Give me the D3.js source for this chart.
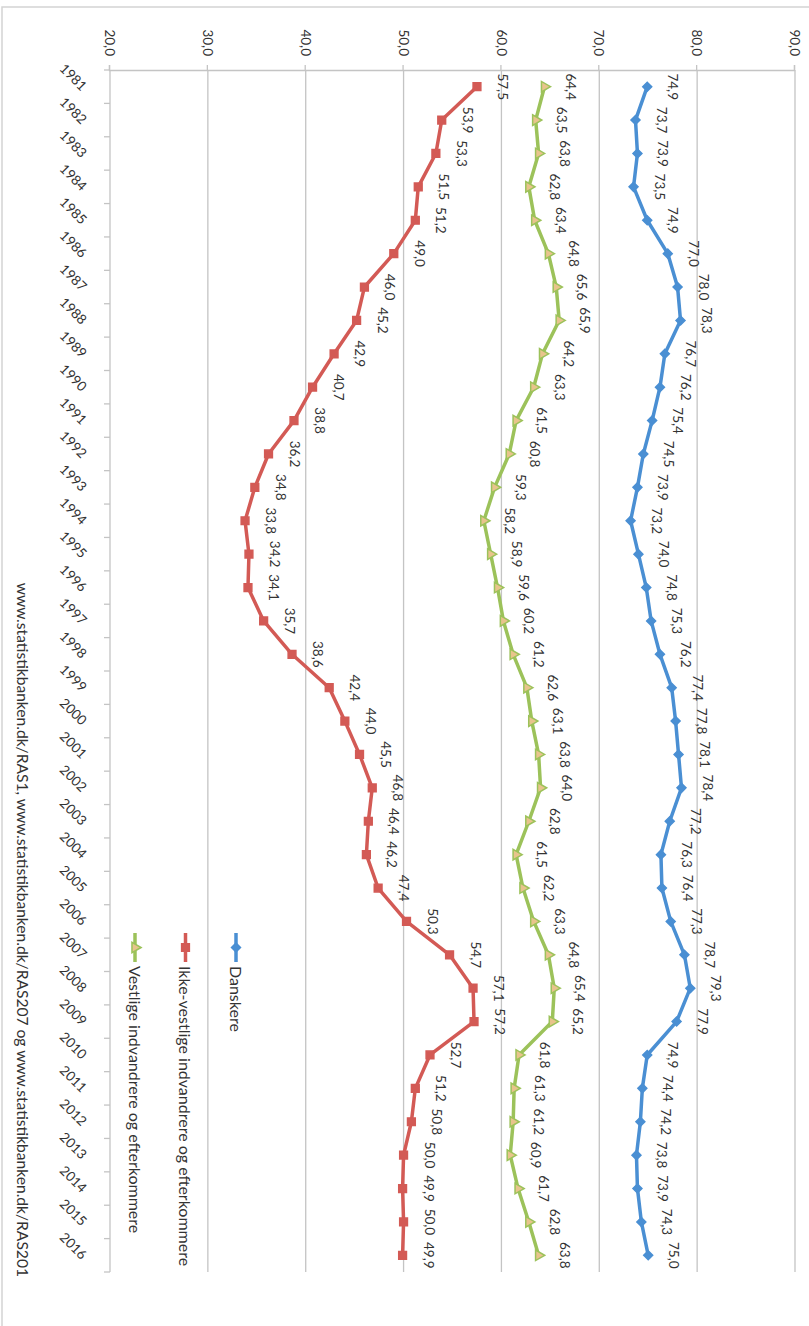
<!DOCTYPE html>
<html>
<head>
<meta charset="utf-8">
<script src="https://cdn.jsdelivr.net/npm/d3@7"></script>
<style>
  body { margin: 0; background: #fff; }
  svg { display: block; }
  text { font-family: Lato, "Open Sans", sans-serif; fill: #333; }
</style>
</head>
<body>
<div id="chart"></div>
<script>
const years = ["1981","1982","1983","1984","1985","1986","1987","1988","1989","1990",
  "1991","1992","1993","1994","1995","1996","1997","1998","1999","2000",
  "2001","2002","2003","2004","2005","2006","2007","2008","2009","2010",
  "2011","2012","2013","2014","2015","2016"];

const danskere = [74.9, 73.7, 73.9, 73.5, 74.9, 77.0, 78.0, 78.3, 76.7, 76.2,
  75.4, 74.5, 73.9, 73.2, 74.0, 74.8, 75.3, 76.2, 77.4, 77.8,
  78.1, 78.4, 77.2, 76.3, 76.4, 77.3, 78.7, 79.3, 77.9, 74.9,
  74.4, 74.2, 73.8, 73.9, 74.3, 75.0];

const ikkeVestlige = [57.5, 53.9, 53.3, 51.5, 51.2, 49.0, 46.0, 45.2, 42.9, 40.7,
  38.8, 36.2, 34.8, 33.8, 34.2, 34.1, 35.7, 38.6, 42.4, 44.0,
  45.5, 46.8, 46.4, 46.2, 47.4, 50.3, 54.7, 57.1, 57.2, 52.7,
  51.2, 50.8, 50.0, 49.9, 50.0, 49.9];

const vestlige = [64.4, 63.5, 63.8, 62.8, 63.4, 64.8, 65.6, 65.9, 64.2, 63.3,
  61.5, 60.8, 59.3, 58.2, 58.9, 59.6, 60.2, 61.2, 62.6, 63.1,
  63.8, 64.0, 62.8, 61.5, 62.2, 63.3, 64.8, 65.4, 65.2, 61.8,
  61.3, 61.2, 60.9, 61.7, 62.8, 63.8];

const seriesNames = ["Danskere", "Ikke-vestlige indvandrere og efterkommere", "Vestlige indvandrere og efterkommere"];
const valueTicks = [20, 30, 40, 50, 60, 70, 80, 90];
const sourceText = "www.statistikbanken.dk/RAS1, www.statistikbanken.dk/RAS207 og www.statistikbanken.dk/RAS201";

const series = [
  { name: seriesNames[0], values: danskere, color: "#4a8fd3", fill: "#4a8fd3", symbol: "diamond" },
  { name: seriesNames[1], values: ikkeVestlige, color: "#d35a55", fill: "#d35a55", symbol: "square" },
  { name: seriesNames[2], values: vestlige, color: "#9cc25a", fill: "#e8c48c", symbol: "triangle" }
];

// the chart is laid out unrotated (1326 x 809), then turned 90° clockwise onto the page
const svg = d3.select("#chart").append("svg")
  .attr("width", 809)
  .attr("height", 1326);

// frame (only left and top edges show on the page)
svg.append("rect")
  .attr("x", 2).attr("y", 7)
  .attr("width", 900).attr("height", 1400)
  .attr("fill", "none")
  .attr("stroke", "#d4d4d4")
  .attr("stroke-width", 1.5);

const g = svg.append("g").attr("transform", "translate(809,0) rotate(90)");

const x = d3.scaleBand().domain(years).range([70, 1272]);
const y = d3.scaleLinear().domain([20, 90]).range([699, 14]);
const bw = x.bandwidth();
const cx = d => x(d) + bw / 2;
const fmt = v => d3.format(".1f")(v).replace(".", ",");

// Gridlines
g.selectAll(".grid")
  .data(valueTicks.slice(1))
  .enter().append("line")
  .attr("x1", 70).attr("x2", 1272)
  .attr("y1", d => y(d)).attr("y2", d => y(d))
  .attr("stroke", "#c4c4c4")
  .attr("stroke-width", 1.3);

// Value axis
g.append("g")
  .attr("transform", "translate(70,0)")
  .call(d3.axisLeft(y).tickValues(valueTicks).tickSize(5).tickPadding(9).tickFormat(fmt))
  .call(ax => ax.select(".domain").attr("stroke", "#c4c4c4").attr("stroke-width", 1.3))
  .call(ax => ax.selectAll("line").attr("stroke", "#c4c4c4").attr("stroke-width", 1.3))
  .selectAll("text")
  .attr("fill", "#333")
  .attr("font-size", "13.5px")
  .attr("font-family", "Lato, sans-serif");

// Category axis: ticks between the years
g.append("line")
  .attr("x1", 70).attr("x2", 1272)
  .attr("y1", y(20)).attr("y2", y(20))
  .attr("stroke", "#c4c4c4").attr("stroke-width", 1.3);

g.selectAll(".xtick")
  .data(years.map(d => x(d)).concat([x.range()[1]]))
  .enter().append("line")
  .attr("x1", d => d).attr("x2", d => d)
  .attr("y1", y(20)).attr("y2", y(20) + 6)
  .attr("stroke", "#c4c4c4").attr("stroke-width", 1.3);

g.selectAll(".xlabel")
  .data(years)
  .enter().append("text")
  .attr("transform", d => `translate(${cx(d) + 5},728) rotate(-45)`)
  .attr("text-anchor", "end")
  .attr("font-size", "13.5px")
  .text(d => d);

// Lines, markers and value labels
const line = d3.line()
  .x((d, i) => cx(years[i]))
  .y(d => y(d));

const symbols = {
  diamond: d3.symbol().type(d3.symbolSquare).size(40),
  square: d3.symbol().type(d3.symbolSquare).size(60),
  triangle: d3.symbol().type(d3.symbolTriangle).size(48)
};

series.forEach(s => {
  g.append("path")
    .datum(s.values)
    .attr("fill", "none")
    .attr("stroke", s.color)
    .attr("stroke-width", 3.5)
    .attr("stroke-linejoin", "round")
    .attr("d", line);

  g.selectAll(null)
    .data(s.values)
    .enter().append("path")
    .attr("transform", (d, i) => `translate(${cx(years[i])},${y(d)})` + (s.symbol === "diamond" ? " rotate(45)" : ""))
    .attr("d", symbols[s.symbol]())
    .attr("fill", s.fill)
    .attr("stroke", s.color)
    .attr("stroke-width", 1.5);

  g.selectAll(null)
    .data(s.values)
    .enter().append("text")
    .attr("x", (d, i) => cx(years[i]))
    .attr("y", d => y(d) - 26)
    .attr("text-anchor", "middle")
    .attr("dominant-baseline", "central")
    .attr("font-size", "13.5px")
    .text(fmt);
});

// Legend
const legend = g.selectAll(".legend")
  .data(series)
  .enter().append("g")
  .attr("transform", (d, i) => `translate(933,${573 + i * 50.5})`);

legend.append("line")
  .attr("x1", 0).attr("x2", 29)
  .attr("stroke", d => d.color)
  .attr("stroke-width", 3.5);

legend.append("path")
  .attr("transform", d => "translate(14.5,0)" + (d.symbol === "diamond" ? " rotate(45)" : ""))
  .attr("d", d => symbols[d.symbol]())
  .attr("fill", d => d.fill)
  .attr("stroke", d => d.color)
  .attr("stroke-width", 1.5);

legend.append("text")
  .attr("x", 33)
  .attr("dominant-baseline", "central")
  .attr("font-size", "16px")
  .attr("fill", "#222")
  .text(d => d.name);

// Source
g.append("text")
  .attr("x", 1277)
  .attr("y", 786)
  .attr("text-anchor", "end")
  .attr("dominant-baseline", "central")
  .attr("font-size", "15.6px")
  .attr("fill", "#222")
  .text(sourceText);
</script>
</body>
</html>
